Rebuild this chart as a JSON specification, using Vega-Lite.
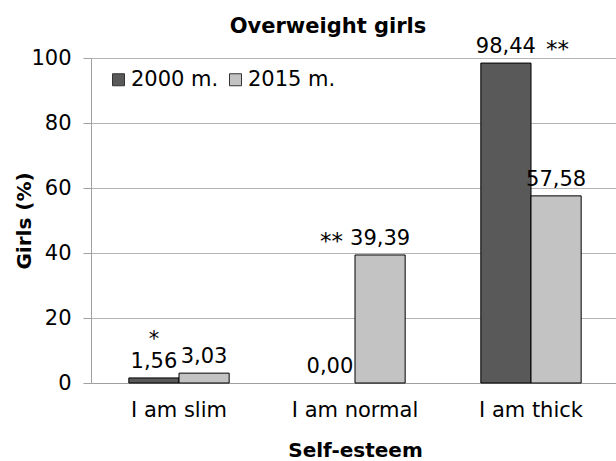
{
  "$schema": "https://vega.github.io/schema/vega-lite/v6.json",
  "autosize": "none",
  "width": 528,
  "height": 325,
  "padding": {"left": 91, "top": 58, "right": 0, "bottom": 78},
  "background": "white",
  "config": {
    "font": "DejaVu Sans",
    "view": {"stroke": null},
    "axis": {"labelFont": "DejaVu Sans", "titleFont": "DejaVu Sans", "labelColor": "black", "titleColor": "black"}
  },
  "title": {"text": "Overweight girls", "fontSize": 21, "fontWeight": "bold", "font": "DejaVu Sans", "anchor": "middle", "frame": "group", "dx": -27, "offset": -1, "color": "black"},
  "data": {
    "values": [
      {"category": "I am slim", "year": "2000 m.", "value": 1.56, "label": "1,56", "sig": "*"},
      {"category": "I am slim", "year": "2015 m.", "value": 3.03, "label": "3,03", "sig": ""},
      {"category": "I am normal", "year": "2000 m.", "value": 0.0, "label": "0,00", "sig": ""},
      {"category": "I am normal", "year": "2015 m.", "value": 39.39, "label": "39,39", "sig": "**"},
      {"category": "I am thick", "year": "2000 m.", "value": 98.44, "label": "98,44", "sig": "**"},
      {"category": "I am thick", "year": "2015 m.", "value": 57.58, "label": "57,58", "sig": ""}
    ]
  },
  "encoding": {
    "x": {
      "field": "category", "type": "nominal", "sort": null,
      "scale": {"paddingInner": 0.43, "paddingOuter": 0.215},
      "axis": {"title": "Self-esteem", "titleFontSize": 20, "titleFontWeight": "bold", "titlePadding": 20, "labelFontSize": 21, "labelAngle": 0, "labelPadding": 16, "ticks": false, "domain": true, "domainColor": "#a0a0a0"}
    },
    "xOffset": {"field": "year", "type": "nominal"},
    "y": {
      "field": "value", "type": "quantitative",
      "scale": {"domain": [0, 100], "nice": false},
      "axis": {"title": "Girls (%)", "titleFontSize": 20, "titleFontWeight": "bold", "titlePadding": -4, "labelFontSize": 21, "values": [0, 20, 40, 60, 80, 100], "labelPadding": 12, "tickSize": 8, "tickColor": "#a0a0a0", "domainColor": "#a0a0a0", "gridColor": "#b4b4b4", "grid": true}
    }
  },
  "layer": [
    {
      "mark": {"type": "bar", "strokeWidth": 1},
      "encoding": {
        "stroke": {"condition": {"test": "datum.value == 0", "value": null}, "value": "black"},
        "color": {
          "field": "year", "type": "nominal",
          "scale": {"domain": ["2000 m.", "2015 m."], "range": ["#595959", "#c3c3c3"]},
          "legend": {"title": null, "orient": "none", "legendX": 17, "legendY": 11, "direction": "horizontal", "symbolType": "square", "symbolSize": 144, "symbolStrokeColor": "#333333", "symbolStrokeWidth": 1, "labelFontSize": 21, "labelFont": "DejaVu Sans", "labelColor": "black", "columnPadding": 6, "labelOffset": 2}
        }
      }
    },
    {
      "mark": {"type": "text", "baseline": "alphabetic", "dy": -10, "fontSize": 21, "color": "black"},
      "encoding": {"text": {"field": "label"}}
    },
    {
      "transform": [{"filter": "datum.category == 'I am thick' && datum.sig != ''"}],
      "mark": {"type": "text", "baseline": "alphabetic", "align": "left", "dy": -6, "dx": 40, "fontSize": 23, "color": "black"},
      "encoding": {"text": {"field": "sig"}}
    },
    {
      "transform": [{"filter": "datum.category == 'I am normal' && datum.sig != ''"}],
      "mark": {"type": "text", "baseline": "alphabetic", "align": "right", "dy": -6, "dx": -37, "fontSize": 23, "color": "black"},
      "encoding": {"text": {"field": "sig"}}
    },
    {
      "transform": [{"filter": "datum.category == 'I am slim' && datum.sig != ''"}],
      "mark": {"type": "text", "baseline": "alphabetic", "dy": -32, "fontSize": 21, "color": "black"},
      "encoding": {"text": {"field": "sig"}}
    }
  ]
}
